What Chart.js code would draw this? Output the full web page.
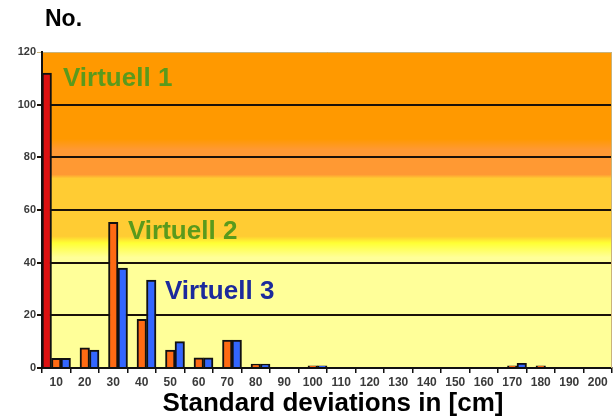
<!DOCTYPE html>
<html>
<head>
<meta charset="utf-8">
<script src="https://cdn.jsdelivr.net/npm/chart.js@4"></script>
<style>
  html, body { margin: 0; padding: 0; background: #fff; }
  #wrap { width: 613px; height: 417px; }
</style>
</head>
<body>
<div id="wrap"><canvas id="chart" width="613" height="417"></canvas></div>
<script>
const categories = ['10', '20', '30', '40', '50', '60', '70', '80', '90', '100',
                    '110', '120', '130', '140', '150', '160', '170', '180', '190', '200'];

const virtuell1 = [112, 0, 0, 0, 0, 0, 0, 0, 0, 0, 0, 0, 0, 0, 0, 0, 0, 0, 0, 0];
const virtuell2 = [3.7, 7.7, 55.3, 18.5, 6.8, 3.9, 10.6, 1.5, 0, 0.8, 0, 0, 0, 0, 0, 0, 0.8, 0.8, 0, 0];
const virtuell3 = [3.7, 6.8, 37.9, 33.4, 10, 3.9, 10.6, 1.5, 0, 0.8, 0, 0, 0, 0, 0, 0, 1.8, 0, 0, 0];

const yTicks = [0, 20, 40, 60, 80, 100, 120];

const seriesNames = ['Virtuell 1', 'Virtuell 2', 'Virtuell 3'];

const FONT = '"Liberation Sans", Arial, sans-serif';

// background bands, grid borders and annotation text
const decorPlugin = {
  id: 'decor',
  beforeDraw(chart) {
    const { ctx, chartArea: a, scales: { y } } = chart;
    const g = ctx.createLinearGradient(0, a.top, 0, a.bottom);
    const stop = (v, c) => {
      const p = (y.getPixelForValue(v) - a.top) / (a.bottom - a.top);
      g.addColorStop(Math.min(1, Math.max(0, p)), c);
    };
    stop(120, '#ff9900');
    stop(87, '#ff9900');
    stop(83, '#ff9933');
    stop(73.5, '#ff9933');
    stop(72, '#ffcc33');
    stop(50, '#ffcc33');
    stop(47.5, '#ffff33');
    stop(42, '#ffff99');
    stop(0, '#ffff99');
    ctx.save();
    ctx.fillStyle = g;
    ctx.fillRect(a.left, a.top, a.right - a.left, a.bottom - a.top);
    ctx.restore();
  },
  afterDraw(chart) {
    const { ctx, chartArea: a, scales: { x, y } } = chart;
    ctx.save();
    // right border
    ctx.strokeStyle = '#c9b37a';
    ctx.lineWidth = 1;
    ctx.beginPath();
    ctx.moveTo(a.right - 0.5, a.top);
    ctx.lineTo(a.right - 0.5, a.bottom);
    ctx.stroke();

    ctx.textBaseline = 'middle';
    ctx.textAlign = 'left';
    ctx.font = 'bold 26px ' + FONT;
    ctx.fillStyle = '#5a9a1c';
    ctx.fillText(seriesNames[0], 63, y.getPixelForValue(110));
    ctx.fillText(seriesNames[1], 128, y.getPixelForValue(51.6));
    ctx.fillStyle = '#1c2a9c';
    ctx.fillText(seriesNames[2], 165, y.getPixelForValue(28.9));

    ctx.fillStyle = '#000';
    ctx.font = 'bold 23px ' + FONT;
    ctx.fillText('No.', 45, 20);

    ctx.textAlign = 'center';
    ctx.font = 'bold 26px ' + FONT;
    ctx.fillText('Standard deviations in [cm]', 333, 404);
    ctx.restore();
  }
};

new Chart(document.getElementById('chart'), {
  type: 'bar',
  data: {
    labels: categories,
    datasets: [
      { label: seriesNames[0], data: virtuell1, backgroundColor: '#dd1111' },
      { label: seriesNames[1], data: virtuell2, backgroundColor: '#ff6a13' },
      { label: seriesNames[2], data: virtuell3, backgroundColor: '#3366ff' }
    ]
  },
  options: {
    responsive: false,
    animation: false,
    layout: { padding: { top: 52, right: 1, left: 0, bottom: 0 } },
    datasets: {
      bar: {
        categoryPercentage: 1,
        barPercentage: 1,
        borderColor: '#111',
        borderWidth: 2,
        borderSkipped: 'bottom'
      }
    },
    plugins: {
      legend: { display: false },
      title: { display: false },
      tooltip: { enabled: false }
    },
    scales: {
      x: {
        afterFit: s => { s.height = 49; },
        grid: {
          offset: true,
          drawOnChartArea: false,
          drawTicks: true,
          tickLength: 5,
          color: '#111',
          lineWidth: 1.5
        },
        border: { color: '#111', width: 2 },
        ticks: {
          autoSkip: false,
          maxRotation: 0,
          padding: 2,
          color: '#3a3a3a',
          font: { family: FONT, size: 12, weight: 'bold' }
        }
      },
      y: {
        min: 0,
        max: 120,
        afterFit: s => { s.width = 42; },
        afterBuildTicks: s => { s.ticks = yTicks.map(v => ({ value: v })); },
        grid: {
          drawTicks: true,
          tickLength: 5,
          color: c => (c.tick && c.tick.value === 120) ? '#c9b37a' : '#1a1108',
          lineWidth: c => (c.tick && c.tick.value === 120) ? 1 : 2
        },
        border: { color: '#111', width: 2 },
        ticks: {
          padding: 1,
          color: '#3a3a3a',
          font: { family: FONT, size: 11, weight: 'bold' }
        }
      }
    }
  },
  plugins: [decorPlugin]
});
</script>
</body>
</html>
